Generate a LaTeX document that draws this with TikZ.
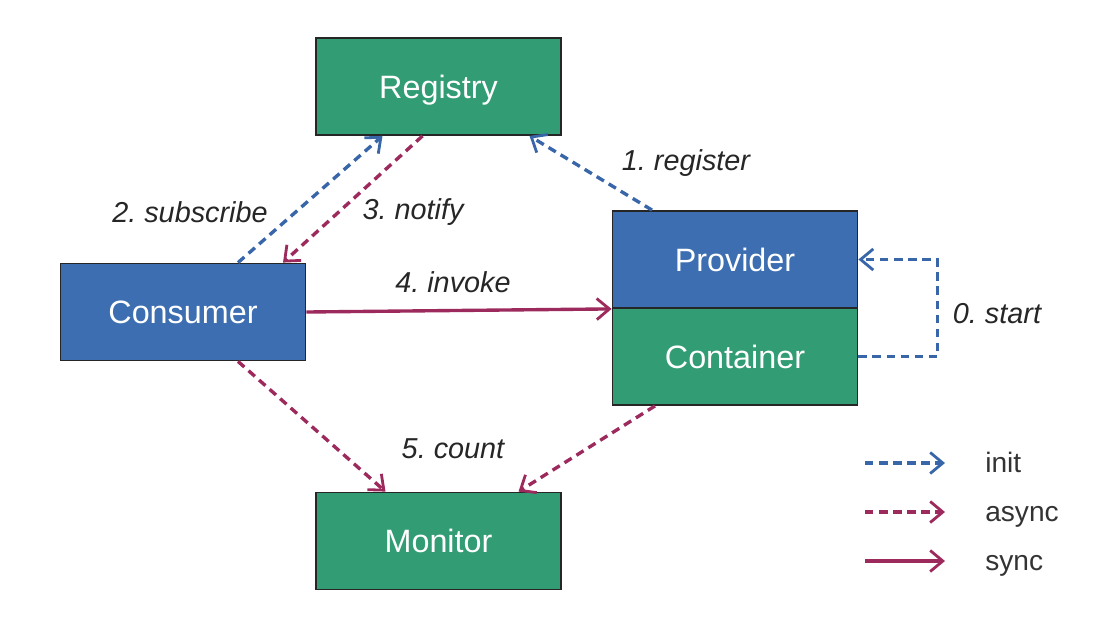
\documentclass[tikz,border=0pt]{standalone}
\usepackage{fontspec}
\setmainfont{Liberation Sans}
\frenchspacing
\usetikzlibrary{arrows.meta}
\definecolor{boxgreen}{RGB}{50,156,116}
\definecolor{boxblue}{RGB}{60,110,177}
\definecolor{initblue}{RGB}{56,102,168}
\definecolor{asyncred}{RGB}{156,42,92}
\tikzset{mbox/.style={draw=black!85,line width=1.3pt,minimum width=61.25mm,minimum height=24.25mm,text=white,text depth=0pt,font=\fontsize{23}{27}\selectfont}}
\tikzset{mgreen/.style={mbox,fill=boxgreen}}
\tikzset{mblue/.style={mbox,fill=boxblue}}
\tikzset{mtip/.style={-{Straight Barb[length=9pt,width=15pt,line width=2pt]}}}
\tikzset{minit/.style={mtip,draw=initblue,line width=2.4pt,dash pattern=on 6pt off 4pt}}
\tikzset{masync/.style={mtip,draw=asyncred,line width=2.4pt,dash pattern=on 6pt off 4pt}}
\tikzset{msync/.style={mtip,draw=asyncred,line width=2.4pt}}
\tikzset{mlabel/.style={font=\fontsize{20.5}{24}\selectfont\itshape,text=black!85}}
\tikzset{mlegend/.style={anchor=base west,inner sep=0pt,font=\fontsize{20}{24}\selectfont,text=black!80}}

\begin{document}
\begin{tikzpicture}[x=0.25mm,y=-0.25mm]
\useasboundingbox (0,0) rectangle (1114,631);

\node[mgreen] (registry) at (438.5,86.5) {Registry};
\node[mblue] (consumer) at (183,312) {Consumer};
\node[mblue] (provider) at (735,259.5) {Provider};
\node[mgreen] (container) at (735,356.5) {Container};
\node[mgreen] (monitor) at (438.5,541) {Monitor};

\draw[minit] ([xshift=13.75mm]consumer.north) -- ([xshift=-14mm]registry.south);
\draw[masync] ([xshift=-4mm]registry.south) -- ([xshift=25mm]consumer.north);
\draw[minit] ([xshift=-20.75mm]provider.north) -- ([xshift=22.75mm]registry.south);
\draw[msync] (consumer.east) -- (provider.south west);
\draw[minit] (container.east) -- ++(19.75mm,0) |- (provider.east);
\draw[masync] ([xshift=13.75mm]consumer.south) -- ([xshift=-13.25mm]monitor.north);
\draw[masync] ([xshift=-20mm]container.south) -- ([xshift=20mm]monitor.north);

\node[mlabel] (subscribe) at (190,212) {2. subscribe};
\node[mlabel] (notify) at (413,212) {3. notify};
\node[mlabel] (register) at (686,163) {1. register};
\node[mlabel] (invoke) at (453,282) {4. invoke};
\node[mlabel] (start) at (997,314) {0. start};
\node[mlabel] (count) at (453,449) {5. count};

% legend
\coordinate (initA) at (865,463);
\coordinate (initB) at (945,463);
\coordinate (asyncA) at (865,512);
\coordinate (asyncB) at (945,512);
\coordinate (syncA) at (865,561);
\coordinate (syncB) at (945,561);
\draw[minit] (initA) -- (initB);
\draw[masync] (asyncA) -- (asyncB);
\draw[msync] (syncA) -- (syncB);
\node[mlegend] (initT) at (985,472) {init};
\node[mlegend] (asyncT) at (985,521) {async};
\node[mlegend] (syncT) at (985,570) {sync};

\end{tikzpicture}
\end{document}
